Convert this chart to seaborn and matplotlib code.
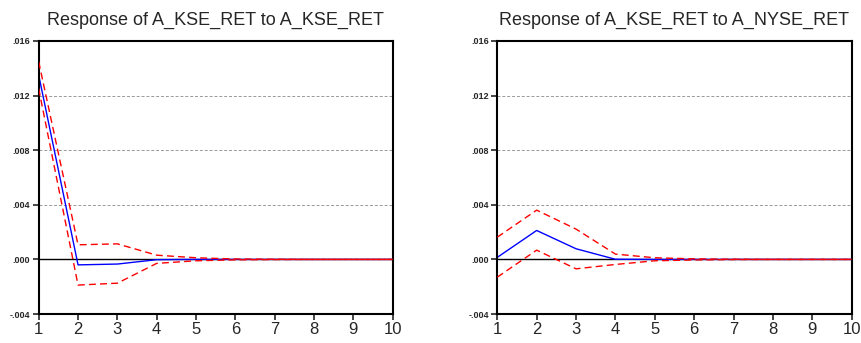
import pandas as pd
import matplotlib
matplotlib.use("Agg")
import matplotlib.pyplot as plt
import seaborn as sns

# Impulse response data
periods = [1, 2, 3, 4, 5, 6, 7, 8, 9, 10]

kse_resp = [0.0135, -0.00040, -0.00034, -0.00002, 0.0, 0.0, 0.0, 0.0, 0.0, 0.0]
kse_upper = [0.01448, 0.00107, 0.00114, 0.00031, 0.00012, 0.00003, 0.00001, 0.0, 0.0, 0.0]
kse_lower = [0.0125, -0.00188, -0.00174, -0.00029, -0.00010, -0.00003, -0.00001, 0.0, 0.0, 0.0]

nyse_resp = [0.00015, 0.00212, 0.00078, 0.00001, 0.0, 0.0, 0.0, 0.0, 0.0, 0.0]
nyse_upper = [0.00163, 0.00361, 0.00222, 0.00039, 0.00012, 0.00004, 0.00001, 0.0, 0.0, 0.0]
nyse_lower = [-0.00130, 0.00068, -0.00069, -0.00037, -0.00010, -0.00004, -0.00001, 0.0, 0.0, 0.0]

titles = ["Response of A_KSE_RET to A_KSE_RET", "Response of A_KSE_RET to A_NYSE_RET"]
yticks = [-0.004, 0.0, 0.004, 0.008, 0.012, 0.016]
ytick_labels = ["-.004", ".000", ".004", ".008", ".012", ".016"]

sns.set_style("ticks")
plt.rcParams["font.family"] = ["Liberation Sans", "DejaVu Sans"]

fig = plt.figure(figsize=(8.62, 3.43), dpi=100)
ax1 = fig.add_axes([0.0449, 0.0845, 0.4107, 0.796])
ax2 = fig.add_axes([0.5769, 0.0845, 0.4111, 0.796])

panels = [
    (ax1, kse_resp, kse_upper, kse_lower),
    (ax2, nyse_resp, nyse_upper, nyse_lower),
]

for i, (ax, resp, up, lo) in enumerate(panels):
    df = pd.DataFrame({"period": periods, "resp": resp, "up": up, "lo": lo})
    for y in [0.004, 0.008, 0.012]:
        ax.axhline(y, color="#999999", lw=0.7, ls=(0, (3, 2)), zorder=0)
    ax.axhline(0, color="black", lw=1.0, zorder=1)
    sns.lineplot(data=df, x="period", y="up", ax=ax, color="red", lw=1.0,
                 linestyle=(0, (5, 3)), zorder=3)
    sns.lineplot(data=df, x="period", y="lo", ax=ax, color="red", lw=1.0,
                 linestyle=(0, (5, 3)), zorder=3)
    sns.lineplot(data=df, x="period", y="resp", ax=ax, color="blue", lw=1.0, zorder=2)

    ax.set_xlim(1, 10)
    ax.set_ylim(-0.004, 0.016)
    ax.set_xticks(periods)
    ax.set_xticklabels([str(p) for p in periods], fontsize=12)
    ax.set_yticks(yticks)
    ax.set_yticklabels(ytick_labels, fontsize=6.5, fontweight="bold")
    ax.tick_params(axis="both", direction="out", length=4, width=1.2, pad=2)
    ax.set_xlabel("")
    ax.set_ylabel("")
    for s in ax.spines.values():
        s.set_linewidth(1.5)
        s.set_color("black")
    ax.set_title(titles[i], fontsize=13, pad=12)

fig.savefig("out.png", dpi=100)
